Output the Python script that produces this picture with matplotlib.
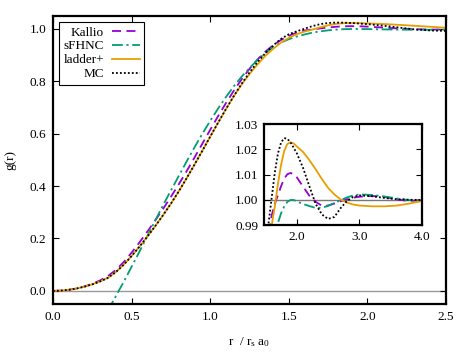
""" g(r) comparison: Kallio, sFHNC, ladder+ and MC, with an inset of the
	oscillations around g = 1.
"""

## LIBRARIES
import numpy as np
import matplotlib
matplotlib.use('Agg')
import matplotlib.pyplot as plt

## DATA
r = np.array([0.00,0.05,0.10,0.15,0.20,0.25,0.30,0.35,0.40,0.45,
			0.50,0.55,0.60,0.65,0.70,0.75,0.80,0.85,0.90,0.95,
			1.00,1.05,1.10,1.15,1.20,1.25,1.30,1.35,1.40,1.45,
			1.50,1.55,1.60,1.65,1.70,1.75,1.80,1.85,1.90,1.95,
			2.00,2.10,2.20,2.30,2.40,2.50,2.60,2.70,2.80,2.90,
			3.00,3.20,3.40,3.60,3.80,4.00])

g_kallio = np.array([0.000,0.001,0.004,0.009,0.017,0.027,0.040,0.057,0.080,0.110,
			0.146,0.185,0.226,0.269,0.313,0.359,0.407,0.457,0.509,0.562,
			0.615,0.667,0.717,0.764,0.808,0.848,0.883,0.913,0.938,0.958,
			0.974,0.986,0.9940,0.9985,1.0020,1.0055,1.0085,1.0102,1.0107,1.0102,
			1.0090,1.0053,1.0017,0.9993,0.9977,0.9978,0.9986,0.9995,1.0003,1.0009,
			1.0013,1.0016,1.0012,1.0002,0.9996,1.0000])

g_sfhnc = np.array([np.nan,np.nan,np.nan,np.nan,np.nan,np.nan,np.nan,-0.075,-0.020,0.035,
			0.092,0.150,0.209,0.268,0.327,0.383,0.439,0.494,0.548,0.600,
			0.649,0.696,0.740,0.781,0.818,0.851,0.881,0.908,0.931,0.948,
			0.961,0.971,0.979,0.986,0.991,0.9948,0.9975,0.9993,1.0000,1.0000,
			0.9995,0.9984,0.9976,0.9969,0.9969,0.9977,0.9988,0.9999,1.0010,1.0018,
			1.0022,1.0020,1.0014,1.0006,0.9999,0.9998])

g_ladder = np.array([0.000,0.001,0.004,0.009,0.016,0.025,0.036,0.050,0.072,0.100,
			0.133,0.169,0.207,0.247,0.289,0.333,0.380,0.430,0.482,0.535,
			0.589,0.642,0.694,0.743,0.788,0.828,0.864,0.897,0.924,0.948,
			0.966,0.980,0.9900,0.9975,1.0065,1.0140,1.0195,1.0222,1.0228,1.0224,
			1.0212,1.0190,1.0158,1.0122,1.0083,1.0048,1.0022,1.0002,0.9990,0.9982,
			0.9978,0.9975,0.9975,0.9978,0.9986,0.9996])

g_mc = np.array([0.000,0.001,0.004,0.009,0.016,0.025,0.036,0.050,0.072,0.100,
			0.133,0.169,0.207,0.247,0.289,0.333,0.380,0.430,0.482,0.535,
			0.589,0.642,0.694,0.744,0.791,0.834,0.873,0.907,0.937,0.962,
			0.980,0.991,1.0010,1.0110,1.0185,1.0228,1.0245,1.0242,1.0228,1.0207,
			1.0185,1.0127,1.0055,0.9985,0.9943,0.9925,0.9933,0.9968,0.9996,1.0012,
			1.0018,1.0015,1.0008,1.0003,1.0001,1.0000])

LABELS = ['Kallio','sFHNC','ladder+','MC']
COLORS = ['#9400d3','#009e73','#e69f00','black']
STYLES = [(0,(5,3)),(0,(6,2,1.2,2)),'-',(0,(1,1.2))]
SERIES = [g_kallio,g_sfhnc,g_ladder,g_mc]

main_xticks = [0.0,0.5,1.0,1.5,2.0,2.5]
main_yticks = [0.0,0.2,0.4,0.6,0.8,1.0]
inset_xticks = [2.0,3.0,4.0]
inset_yticks = [0.99,1.00,1.01,1.02,1.03]

## FONTS
FS = 9.5
plt.rcParams['font.family'] = ['Liberation Serif','DejaVu Serif']
plt.rcParams['font.size'] = FS
plt.rcParams['mathtext.fontset'] = 'custom'
plt.rcParams['mathtext.rm'] = 'Liberation Serif'
plt.rcParams['mathtext.it'] = 'Liberation Serif:italic'

def style_axes(ax,xt,yt,fmt):
	""" gnuplot-like frame: thick border, inward ticks on all four sides. """
	for s in ax.spines.values():
		s.set_linewidth(1.6)
	ax.tick_params(direction='in',top=True,right=True,length=4,width=0.8,
				pad=5,labelsize=FS)
	ax.set_xticks(xt)
	ax.set_yticks(yt)
	ax.set_xticklabels(['%.1f' % v for v in xt])
	ax.set_yticklabels([fmt % v for v in yt])

## FIGURE
fig = plt.figure(figsize=(4.69,3.61),dpi=100)

ax = fig.add_axes([0.113,0.158,0.838,0.798])
ax.axhline(0.0,color='#999999',lw=1.0,zorder=1)
for g,lab,c,ls in zip(SERIES,LABELS,COLORS,STYLES):
	ax.plot(r,g,color=c,ls=ls,lw=1.3,label=lab)
ax.set_xlim(0,2.5)
ax.set_ylim(-0.05,1.05)
style_axes(ax,main_xticks,main_yticks,'%.1f')
ax.set_xlabel(r'r  / r$_\mathrm{s}$ a$_0$',labelpad=9)
ax.set_ylabel('g(r)',labelpad=9)

leg = ax.legend(loc='upper left',markerfirst=False,fancybox=False,
			edgecolor='black',framealpha=1,handlelength=2.1,
			handletextpad=0.6,borderpad=0.35,labelspacing=0.12,
			borderaxespad=0.45,fontsize=FS)
leg.get_frame().set_linewidth(0.8)

## INSET
axi = fig.add_axes([0.562,0.376,0.338,0.280])
axi.axhline(1.0,color='#777777',lw=1.0,zorder=1)
for g,c,ls in zip(SERIES,COLORS,STYLES):
	axi.plot(r,g,color=c,ls=ls,lw=1.3)
axi.set_xlim(1.47,4.0)
axi.set_ylim(0.99,1.03)
style_axes(axi,inset_xticks,inset_yticks,'%.2f')
axi.tick_params(pad=4)

fig.savefig('out.png',dpi=100)
